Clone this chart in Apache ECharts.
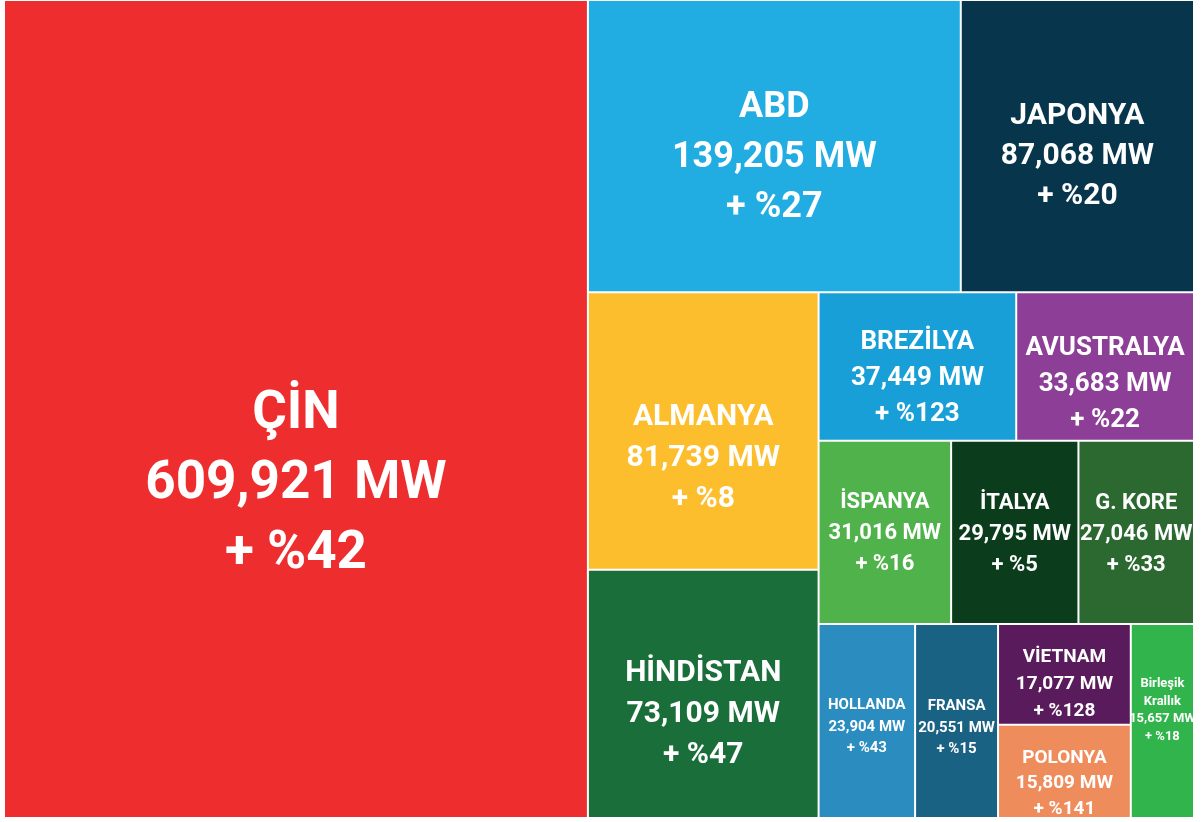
<!DOCTYPE html>
<html>
<head>
<meta charset="utf-8">
<script src="https://cdn.jsdelivr.net/npm/echarts@6/dist/echarts.min.js"></script>
<style>
html,body{margin:0;padding:0;background:#ffffff;}
#chart{width:1204px;height:822px;}
</style>
</head>
<body>
<div id="chart"></div>
<script>
// ---- data ----
const countries = ['ÇİN', 'ABD', 'JAPONYA', 'ALMANYA', 'HİNDİSTAN', 'BREZİLYA', 'AVUSTRALYA',
  'İSPANYA', 'İTALYA', 'G. KORE', 'HOLLANDA', 'FRANSA', 'VİETNAM', 'POLONYA', 'Birleşik Krallık'];
const capacityMW = [609921, 139205, 87068, 81739, 73109, 37449, 33683,
  31016, 29795, 27046, 23904, 20551, 17077, 15809, 15657];
const growthPct = [42, 27, 20, 8, 47, 123, 22, 16, 5, 33, 43, 15, 128, 141, 18];

// grouping of item indices (nesting) that reproduces the reference tiling
const tiling = [0, [[1, 2], [[3, 4], [[5, 6], [[7, 8, 9], [10, [11, [[12, 13], 14]]]]]]]];

// ---- styles ----
const colors = ['#ee2e2e', '#21ade2', '#07364c', '#fcbe2c', '#1a6e39', '#189fd7', '#8d3e97',
  '#50b24a', '#0b3c1c', '#2b6931', '#2b8cc0', '#1a6283', '#5a1b5c', '#ef8c5c', '#30b44b'];
const fontSizes = [53, 36, 30, 30, 30, 26, 26, 22, 22, 22, 15, 15, 19, 19, 13];
const lineHeights = [70, 50, 40, 41, 41, 36, 36, 31, 31, 31, 21.5, 21.5, 27, 25.5, 17.5];
const labelShiftY = [76, 12, 10, 27, 21, 12, 18, 1, 2, 2, 6, 7, 10, 12, -11];

function fmt(n) { return n.toLocaleString('en-US'); }

let groupCounter = 0;
function build(node) {
  if (typeof node === 'number') {
    const i = node;
    return {
      name: countries[i],
      value: capacityMW[i],
      pct: growthPct[i],
      itemStyle: { color: colors[i] },
      label: { fontSize: fontSizes[i], lineHeight: lineHeights[i], offset: [0, labelShiftY[i]] }
    };
  }
  groupCounter++;
  return { name: 'grup' + groupCounter, children: node.map(build) };
}

const chart = echarts.init(document.getElementById('chart'));
chart.setOption({
  animation: false,
  series: [{
    type: 'treemap',
    left: 5, top: 1, width: 1188, height: 816,
    squareRatio: 0.9,
    sort: false,
    roam: false,
    nodeClick: false,
    breadcrumb: { show: false },
    itemStyle: { borderWidth: 0, gapWidth: 2, borderColor: '#ffffff' },
    upperLabel: { show: false },
    label: {
      show: true,
      position: 'inside',
      align: 'center',
      verticalAlign: 'middle',
      color: '#ffffff',
      fontFamily: 'Roboto',
      fontWeight: 'bold',
      overflow: 'none',
      formatter: function (p) {
        if (!p.data || p.data.pct == null) return '';
        const nm = (p.name.length > 10 && p.name.indexOf(' ') > 0) ? p.name.replace(' ', '\n') : p.name;
        return nm + '\n' + fmt(p.value) + ' MW\n+ %' + p.data.pct;
      }
    },
    data: tiling.map(build)
  }]
});
</script>
</body>
</html>
